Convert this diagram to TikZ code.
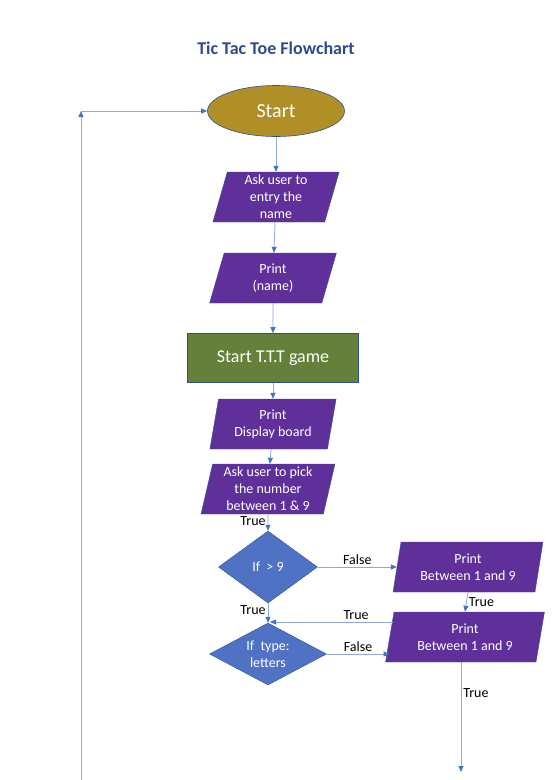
\documentclass[tikz,border=0pt]{standalone}
\usepackage{fontspec}
\setmainfont{Carlito}
\usetikzlibrary{shapes.geometric,arrows.meta}
\definecolor{titleblue}{HTML}{2E4A8F}
\definecolor{startgold}{HTML}{B08F26}
\definecolor{gamegreen}{HTML}{64803A}
\definecolor{iopurple}{HTML}{60309A}
\definecolor{ifblue}{HTML}{4F72C4}
\definecolor{edgeblue}{HTML}{2F528F}
\definecolor{lineblue}{HTML}{8FA8DA}
\definecolor{tipblue}{HTML}{4472C4}

\begin{document}
\begin{tikzpicture}[x=1pt, y=-1pt, line width=0.8pt, draw=lineblue,
    -{Triangle[length=6pt, width=5pt, color=tipblue]}, shorten >=0pt,
    io/.style={trapezium, trapezium left angle=78, trapezium right angle=102,
      trapezium stretches=true, fill=iopurple, draw=edgeblue, line width=0.4pt,
      text=white, align=center, inner sep=0pt, minimum width=127pt, minimum height=50pt,
      font=\fontsize{14}{17}\selectfont},
    test/.style={diamond, fill=ifblue, draw=edgeblue, line width=0.4pt, text=white,
      align=center, inner sep=0pt, aspect=1.4, font=\fontsize{14}{17}\selectfont},
    lbl/.style={font=\fontsize{14}{16}\selectfont, text=black, inner sep=2pt}]
  \useasboundingbox (0,0) rectangle (553,780);

  \node[font=\fontsize{18}{22}\selectfont\bfseries, text=titleblue] (title) at (276,48) {Tic Tac Toe Flowchart};

  \node[ellipse, fill=startgold, draw=edgeblue, line width=0.6pt, text=white, minimum width=137pt,
    minimum height=51pt, inner sep=0pt, font=\fontsize{20}{24}\selectfont] (start) at (276,111) {Start};
  \node[io] (ask) at (276,197) {Ask user to\\entry the\\name};
  \node[io] (name) at (273,278) {Print\\(name)};
  \node[rectangle, fill=gamegreen, draw=edgeblue, line width=0.6pt, text=white, minimum width=171pt,
    minimum height=49pt, inner sep=0pt, font=\fontsize{18}{22}\selectfont] (game) at (273,358) {Start T.T.T game};
  \node[io] (board) at (273,424) {Print\\Display board};
  \node[io, minimum width=134pt] (pick) at (268,489) {Ask user to pick\\the number\\between 1 \& 9};
  \node[test, minimum width=99pt, minimum height=72pt] (big) at (268,567) {If \ \textgreater\ 9};
  \node[io, minimum width=150pt] (range1) at (468,567) {Print\\Between 1 and 9};
  \node[test, minimum width=117pt, minimum height=62pt] (letters) at (268,654) {If \ type:\\letters};
  \node[io, minimum width=159pt] (range2) at (465,637) {Print\\Between 1 and 9};

  \coordinate (join) at (270,622);
  \coordinate (back) at (393,622);
  \coordinate (loopbottom) at (81,780);
  \coordinate (looptop) at (81,111);
  \coordinate (exit) at (461,772);

  \path (start) edge (ask);
  \path (ask) edge (name);
  \path (name) edge (game);
  \path (game) edge (board);
  \path (board) edge (pick);
  \path (pick.south) edge node[lbl, left, pos=0.4] {True} (big.north);
  \path (big) edge node[lbl, above] {False} (range1.west |- big);
  \path (range1.south) edge node[lbl, right] {True} (range2.north);
  \path (big) edge node[lbl, left, pos=0.35] {True} (letters);
  \path (back) edge node[lbl, above, pos=0.3] {True} (join);
  \path (letters) edge node[lbl, above] {False} (range2.west |- letters);
  \path (range2.south -| exit) edge node[lbl, right, pos=0.28] {True} (exit);
  \path (loopbottom) edge (looptop);
  \path (looptop) edge (start);
\end{tikzpicture}
\end{document}
